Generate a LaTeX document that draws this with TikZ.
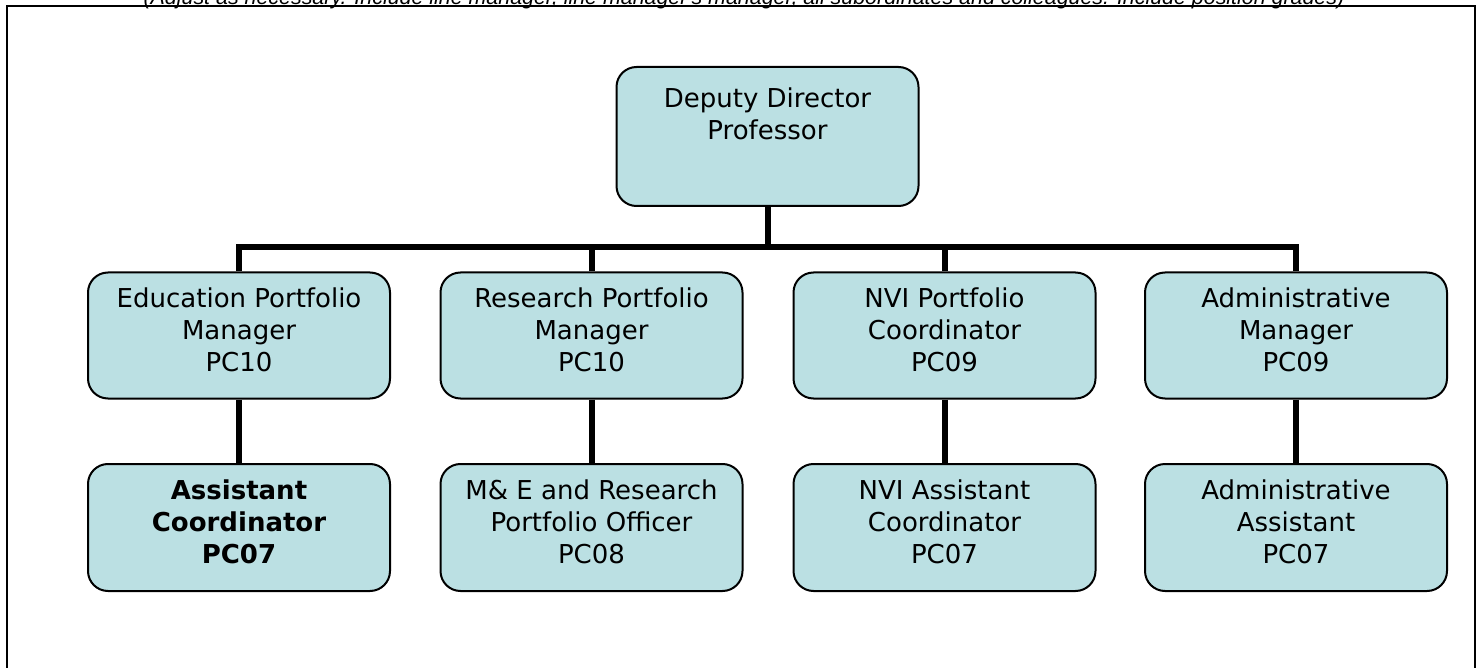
\documentclass[tikz,border=0pt]{standalone}
\usepackage{fontspec}
\setmainfont{DejaVu Sans}
\newfontfamily\notefont{Liberation Sans}
\definecolor{postfill}{RGB}{187,224,227}
\begin{document}
\begin{tikzpicture}[x=1pt,y=-1pt,
  post/.style={draw=black, line width=2pt, fill=postfill, rounded corners=20pt,
    minimum width=302pt, minimum height=126pt, inner sep=0pt},
  postlabel/.style={align=center, font=\fontsize{26}{32}\selectfont, inner sep=0pt, text=black},
  link/.style={draw=black, line width=6pt},
  framestyle/.style={draw=black, line width=2pt}]
\useasboundingbox (0,0) rectangle (1483,668);

% instruction line above the frame
\node[anchor=base, inner sep=0pt, font=\notefont\itshape\fontsize{21.4}{24}\selectfont]
  (note) at (744,4.3) {(Adjust as necessary. Include line manager, line manager's manager, all subordinates and colleagues. Include position grades)};

% frame, open at the bottom
\coordinate (fbl) at (7,672);
\coordinate (ftl) at (7,6.5);
\coordinate (ftr) at (1475.3,6.5);
\coordinate (fbr) at (1475.3,672);
\draw[framestyle] (fbl) -- (ftl) -- (ftr) -- (fbr);

% top post
\node[post, minimum height=139pt] (dd) at (767.5,136.5) {};
\node[postlabel] (ddt) at (767.5,114) {Deputy Director\\Professor};

% managers
\node[post] (edu) at (239,335.5) {};
\node[post] (res) at (591.5,335.5) {};
\node[post] (nvi) at (944.5,335.5) {};
\node[post] (adm) at (1296,335.5) {};
\node[postlabel] (edut) at (239,330) {Education Portfolio\\Manager\\PC10};
\node[postlabel] (rest) at (591.5,330) {Research Portfolio\\Manager\\PC10};
\node[postlabel] (nvit) at (944.5,330) {NVI Portfolio\\Coordinator\\PC09};
\node[postlabel] (admt) at (1296,330) {Administrative\\Manager\\PC09};

% assistants
\node[post, minimum height=127pt] (edua) at (239,527.5) {};
\node[post, minimum height=127pt] (resa) at (591.5,527.5) {};
\node[post, minimum height=127pt] (nvia) at (944.5,527.5) {};
\node[post, minimum height=127pt] (adma) at (1296,527.5) {};
\node[postlabel, font=\fontsize{26}{32}\selectfont\bfseries] (eduat) at (239,522) {Assistant\\Coordinator\\PC07};
\node[postlabel] (resat) at (591.5,522) {M\& E and Research\\Portfolio Officer\\PC08};
\node[postlabel] (nviat) at (944.5,522) {NVI Assistant\\Coordinator\\PC07};
\node[postlabel] (admat) at (1296,522) {Administrative\\Assistant\\PC07};

% connectors
\coordinate (bar) at (0,247);
\begin{scope}[on background layer/.try]
\draw[link] (dd.south) -- (dd.south |- bar);
\draw[link] (edu.north) -- (edu.north |- bar) -- (adm.north |- bar) -- (adm.north);
\draw[link] (res.north) -- (res.north |- bar);
\draw[link] (nvi.north) -- (nvi.north |- bar);
\draw[link] (edu.south) -- (edua.north);
\draw[link] (res.south) -- (resa.north);
\draw[link] (nvi.south) -- (nvia.north);
\draw[link] (adm.south) -- (adma.north);
\end{scope}
\end{tikzpicture}
\end{document}
